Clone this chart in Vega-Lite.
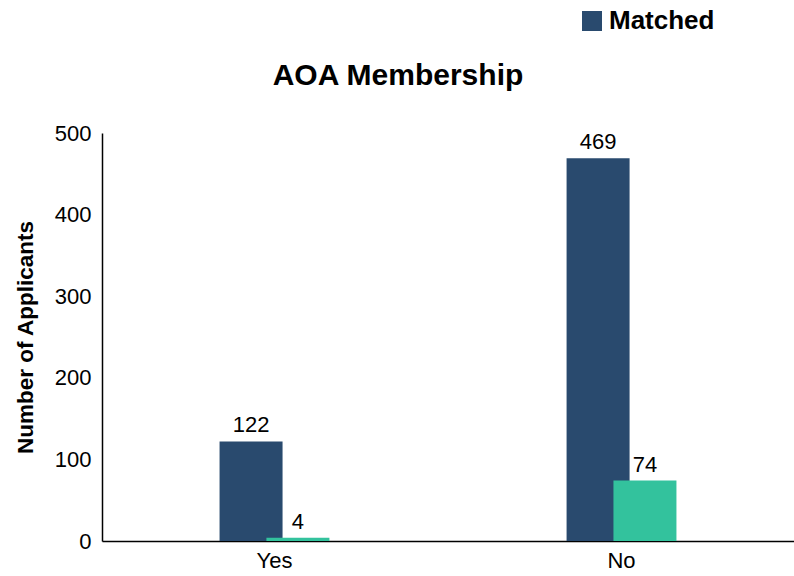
{
  "$schema": "https://vega.github.io/schema/vega-lite/v6.json",
  "autosize": "none",
  "width": 692,
  "height": 408,
  "padding": {"left": 102, "top": 133, "right": 0, "bottom": 35},
  "background": "white",
  "view": {"stroke": null},
  "title": {"text": "AOA Membership", "fontSize": 30, "fontWeight": "bold", "font": "Liberation Sans", "color": "#000000", "anchor": "middle", "dx": -50, "offset": -83},
  "data": {"values": [
    {"aoa": "Yes", "status": "Matched", "count": 122},
    {"aoa": "No", "status": "Matched", "count": 469},
    {"aoa": "Yes", "status": "Unmatched", "count": 4},
    {"aoa": "No", "status": "Unmatched", "count": 74}
  ]},
  "encoding": {
    "x": {"field": "aoa", "type": "nominal", "sort": ["Yes", "No"],
      "scale": {"paddingInner": 0.7299, "paddingOuter": 0.362},
      "axis": {"title": null, "labelAngle": 0, "labelFontSize": 22, "labelFont": "Liberation Sans", "labelColor": "#000000", "ticks": false, "domainColor": "#000000", "domainWidth": 1.5, "labelPadding": 9}},
    "xOffset": {"field": "status", "type": "nominal", "sort": ["Matched", "Unmatched"], "scale": {"paddingInner": 0, "paddingOuter": 0}},
    "y": {"field": "count", "type": "quantitative",
      "scale": {"domain": [0, 500], "nice": false},
      "axis": {"title": "Number of Applicants", "titleFontSize": 22.5, "titleFont": "Liberation Sans", "titleFontWeight": "bold", "titleColor": "#000000", "titlePadding": 17, "values": [0, 100, 200, 300, 400, 500], "grid": false, "ticks": false, "labelFontSize": 22, "labelFont": "Liberation Sans", "labelColor": "#000000", "labelPadding": 11, "domainColor": "#000000", "domainWidth": 1.5}}
  },
  "layer": [
    {
      "mark": {"type": "bar", "width": 63},
      "encoding": {
        "color": {"field": "status", "type": "nominal",
          "scale": {"domain": ["Matched", "Unmatched"], "range": ["#294a6e", "#33c29d"]},
          "legend": {"values": ["Matched"], "title": null, "orient": "none", "legendX": 477, "legendY": -125, "symbolType": "square", "symbolSize": 400, "labelOffset": 4, "labelFontSize": 26, "labelFontWeight": "bold", "labelFont": "Liberation Sans", "labelColor": "#000000", "symbolStrokeWidth": 0,
            "encode": {"symbols": {"update": {"fill": {"value": "#3b64a0"}, "stroke": {"value": "#3b64a0"}}}}}}
      }
    },
    {
      "mark": {"type": "text", "baseline": "alphabetic", "dy": -9, "fontSize": 22, "font": "Liberation Sans", "color": "#000000"},
      "encoding": {"text": {"field": "count", "type": "quantitative"}}
    }
  ]
}
